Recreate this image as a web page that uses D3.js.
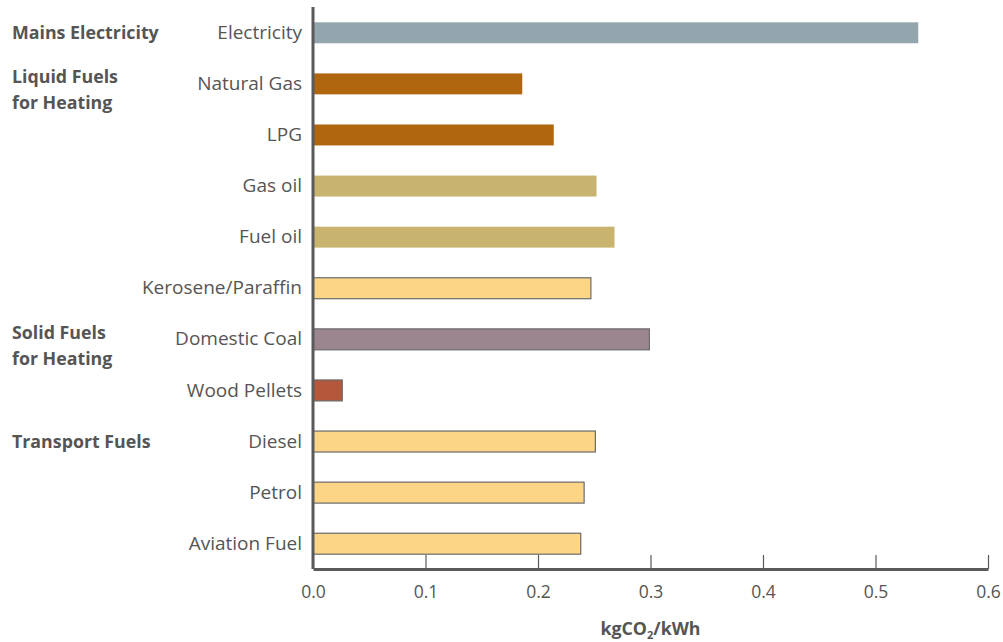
<!DOCTYPE html>
<html><head><meta charset="utf-8">
<script src="https://cdn.jsdelivr.net/npm/d3@7"></script>
<style>
body{margin:0;background:#fff;}
svg text{font-family:"Open Sans","Noto Sans",sans-serif;fill:#555;}
</style></head>
<body><svg id="c" width="1003" height="642"></svg>
<script>
const categories = ["Electricity","Natural Gas","LPG","Gas oil","Fuel oil","Kerosene/Paraffin","Domestic Coal","Wood Pellets","Diesel","Petrol","Aviation Fuel"];
const values = [0.538,0.186,0.214,0.252,0.268,0.247,0.299,0.026,0.251,0.241,0.238];
const colors = ["#93a6ae","#b0650f","#b0650f","#c8b46f","#c8b46f","#fdd587","#9b8690","#b5573a","#fdd587","#fdd587","#fdd587"];
const outlined = [false,false,false,false,false,true,true,true,true,true,true];
const groups = [
  {lines:["Mains Electricity"], row:"Electricity"},
  {lines:["Liquid Fuels","for Heating"], row:"Natural Gas"},
  {lines:["Solid Fuels","for Heating"], row:"Domestic Coal"},
  {lines:["Transport Fuels"], row:"Diesel"}
];
const xTicks = [0,0.1,0.2,0.3,0.4,0.5,0.6];
const xTitleParts = ["kgCO","2","/kWh"];

const svg = d3.select("#c");
const mLeft = 313, mRight = 988, mTop = 7, mBottom = 569;
const x = d3.scaleLinear().domain([0,0.6]).range([mLeft,mRight]);
const y = d3.scaleBand().domain(categories).range([mTop+0.5, mBottom]).paddingInner(0.59).paddingOuter(0.29);

const data = categories.map((c,i)=>({c, v:values[i], col:colors[i], o:outlined[i]}));

svg.append("g").selectAll("rect").data(data).join("rect")
  .attr("x", x(0)).attr("y", d=>y(d.c))
  .attr("width", d=>x(d.v)-x(0)).attr("height", y.bandwidth())
  .attr("fill", d=>d.col)
  .attr("stroke", d=>d.o?"#6a6a6a":"none").attr("stroke-width",1.2);

// x axis
const xa = svg.append("g").attr("transform",`translate(0,${mBottom})`)
  .call(d3.axisBottom(x).tickValues(xTicks).tickFormat(d3.format(".1f")).tickSizeInner(-14).tickSizeOuter(0).tickPadding(20));
xa.select(".domain").attr("stroke","#5a5a5a").attr("stroke-width",3);
xa.selectAll(".tick line").attr("stroke","#5a5a5a").attr("stroke-width",1.2);
xa.selectAll(".tick text").attr("font-size",17.5).attr("fill","#555").attr("dy","0.5em");

// y axis
const ya = svg.append("g").attr("transform",`translate(${mLeft},0)`)
  .call(d3.axisLeft(y).tickSize(0).tickPadding(11));
ya.select(".domain").attr("stroke","#5a5a5a").attr("stroke-width",3)
  .attr("d", `M0,${mTop}V${mBottom}`);
ya.selectAll(".tick text").attr("font-size",19).attr("fill","#555");

// group labels
groups.forEach(g=>{
  const cy = y(g.row)+y.bandwidth()/2 - (g.lines.length>1?7:0);
  g.lines.forEach((l,i)=>{
    svg.append("text").attr("x",12).attr("y",cy+i*26).attr("dy","0.35em")
      .attr("font-size",17.8).attr("font-weight","bold").attr("fill","#555").text(l);
  });
});

// title
const t = svg.append("text").attr("x",(mLeft+mRight)/2).attr("y",629).attr("dy","0.35em")
  .attr("text-anchor","middle").attr("font-size",17.8).attr("font-weight","bold");
t.append("tspan").text(xTitleParts[0]);
t.append("tspan").attr("font-size",11).attr("dy","0.35em").text(xTitleParts[1]);
t.append("tspan").attr("dy","-0.22em").text(xTitleParts[2]);
</script></body></html>
